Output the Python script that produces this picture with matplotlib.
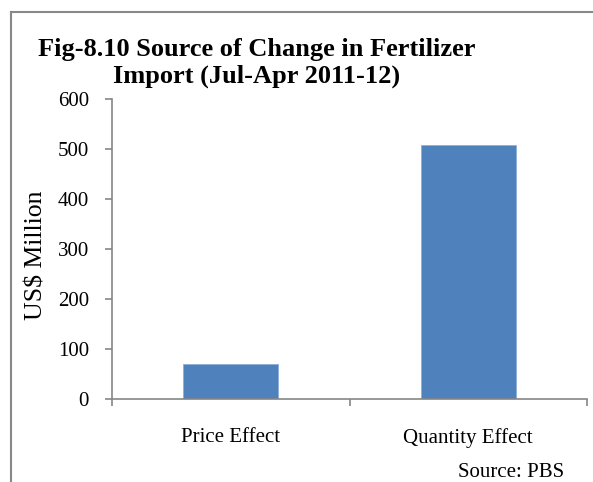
import matplotlib.pyplot as plt
from matplotlib.lines import Line2D

categories = ['Price Effect', 'Quantity Effect']
values = [71, 509]
y_ticks = [0, 100, 200, 300, 400, 500, 600]

plt.rcParams['font.family'] = ['Liberation Serif', 'DejaVu Serif']

fig = plt.figure(figsize=(5.93, 4.82), dpi=100)
W, H = 593, 482
ax = fig.add_axes([112 / W, 1 - 399 / H, (587 - 112) / W, (399 - 99) / H])

x = list(range(len(categories)))
ax.bar(x, values, width=0.4, color='#4F81BD', edgecolor='#8FAFD8', linewidth=0.6, zorder=2)

ax.set_xlim(-0.5, len(categories) - 0.5)
ax.set_ylim(0, 600)
ax.set_yticks(y_ticks)
ax.set_yticklabels([str(v) for v in y_ticks], fontsize=15)
ax.set_xticks([-0.5, 0.5, 1.5])
ax.set_xticklabels([])
ax.set_xticks(x, minor=True)
ax.set_xticklabels(categories, minor=True, fontsize=15)
ax.tick_params(axis='x', which='minor', length=0, pad=21)
ax.tick_params(axis='x', which='major', length=5, color='#868686', width=1.2)
ax.tick_params(axis='y', length=5, color='#868686', width=1.2, pad=11.5)

for s in ['top', 'right']:
    ax.spines[s].set_visible(False)
for s in ['left', 'bottom']:
    ax.spines[s].set_color('#868686')
    ax.spines[s].set_linewidth(1.2)

ax.set_ylabel('US$ Million', fontsize=18.5)
ax.yaxis.set_label_coords(-(112 - 47) / (587 - 112), 0.48)

fig.text(257 / W, 1 - 83 / H, 'Fig-8.10 Source of Change in Fertilizer\nImport (Jul-Apr 2011-12)',
         ha='center', va='baseline', fontsize=19, fontweight='bold', linespacing=1.2)
fig.text(564 / W, 1 - 477 / H, 'Source: PBS', ha='right', va='baseline', fontsize=15)

# chart border (cropped at right and bottom)
fig.add_artist(Line2D([11 / W, 1], [1 - 12 / H, 1 - 12 / H], color='#888888', lw=1.5))
fig.add_artist(Line2D([11 / W, 11 / W], [0, 1 - 12 / H], color='#888888', lw=1.5))

fig.savefig('out.png', dpi=100)
